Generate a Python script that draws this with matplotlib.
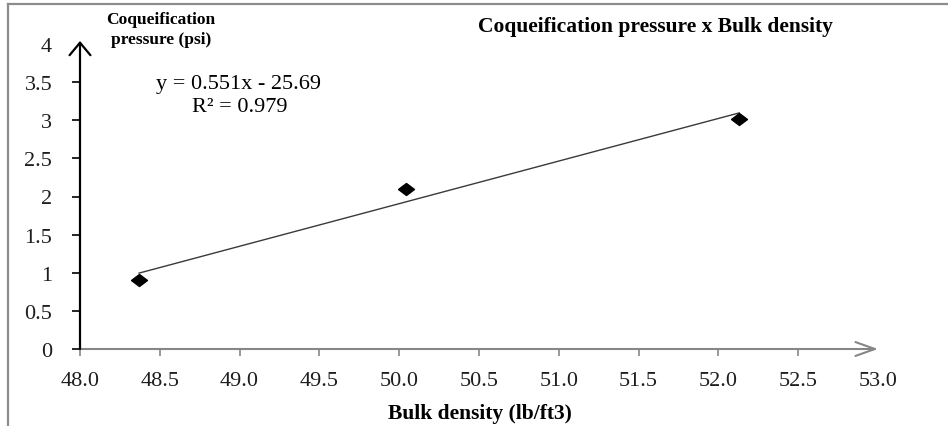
import numpy as np
import matplotlib
matplotlib.use('Agg')
import matplotlib.pyplot as plt
from matplotlib.lines import Line2D

# data
bulk_density = [48.37, 50.04, 52.13]
pressure = [0.9, 2.1, 3.02]
equation = 'y = 0.551x - 25.69'
r_squared = 'R² = 0.979'
x_ticks = [48.0, 48.5, 49.0, 49.5, 50.0, 50.5, 51.0, 51.5, 52.0, 52.5, 53.0]
y_ticks = [0, 0.5, 1, 1.5, 2, 2.5, 3, 3.5, 4]

W, H = 948, 427
plt.rcParams['font.family'] = ['Liberation Serif', 'DejaVu Serif']

fig = plt.figure(figsize=(W / 100, H / 100), dpi=100, facecolor='white')
ax = fig.add_axes([80 / W, 1 - 350 / H, (878 - 80) / W, (350 - 45) / H])

# linear trendline fitted on the points
coef = np.polyfit(bulk_density, pressure, 1)
xs = np.array([bulk_density[0], bulk_density[-1]])
ax.plot(xs, np.polyval(coef, xs), color='#3a3a3a', lw=1.0)

# slightly wide diamond like the excel marker
diamond = [(-1.33, 0), (0, 1), (1.33, 0), (0, -1), (-1.33, 0)]
ax.plot(bulk_density, pressure, linestyle='none', marker=diamond,
        color='black', markersize=11.5)

ax.set_xlim(48, 53)
ax.set_ylim(0, 4)
ax.set_xticks(x_ticks)
ax.set_xticklabels(['%.1f' % v for v in x_ticks])
ax.set_yticks(y_ticks)
ax.set_yticklabels(['%g' % v for v in y_ticks])
# no tick marks under the arrow heads
ax.xaxis.get_major_ticks()[-1].tick1line.set_visible(False)
ax.yaxis.get_major_ticks()[-1].tick1line.set_visible(False)
for s in ax.spines.values():
    s.set_visible(False)

ax.tick_params(axis='x', direction='out', length=5, width=1.2, color='#868686',
               pad=11, labelsize=16, labelcolor='#1e1e1e')
ax.tick_params(axis='y', direction='out', length=6, width=1.2, color='black',
               pad=14, labelsize=16, labelcolor='#1e1e1e')

# axis lines with open arrow heads
ax.annotate('', xy=(1, 0), xytext=(0, 0), xycoords='axes fraction',
            arrowprops=dict(arrowstyle='->,head_length=1.4,head_width=0.5',
                            color='#868686', lw=1.5, shrinkA=0, shrinkB=0))
ax.annotate('', xy=(0, 1.01), xytext=(0, 0), xycoords='axes fraction',
            arrowprops=dict(arrowstyle='->,head_length=0.9,head_width=0.75',
                            color='black', lw=1.6, shrinkA=0, shrinkB=0))

# texts
fig.text(655 / W, 1 - 27 / H, 'Coqueification pressure x Bulk density',
         ha='center', va='center', fontsize=15.5, fontweight='bold')
fig.text(161 / W, 1 - 30 / H, 'Coqueification\npressure (psi)',
         ha='center', va='center', fontsize=12.5, fontweight='bold',
         linespacing=1.3)
fig.text(480 / W, 1 - 414 / H, 'Bulk density (lb/ft3)',
         ha='center', va='center', fontsize=15.5, fontweight='bold')
fig.text(238 / W, 1 - 84 / H, equation, ha='center', va='center', fontsize=16)
fig.text(240 / W, 1 - 107 / H, r_squared, ha='center', va='center', fontsize=16)

# partial frame of the picture
fig.add_artist(Line2D([8 / W, 8 / W], [0, 1 - 5 / H], color='#8c8c8c', lw=1.6))
fig.add_artist(Line2D([8 / W, 1], [1 - 5 / H, 1 - 5 / H], color='#8c8c8c', lw=1.6))

fig.savefig('out.png', dpi=100, facecolor='white')
